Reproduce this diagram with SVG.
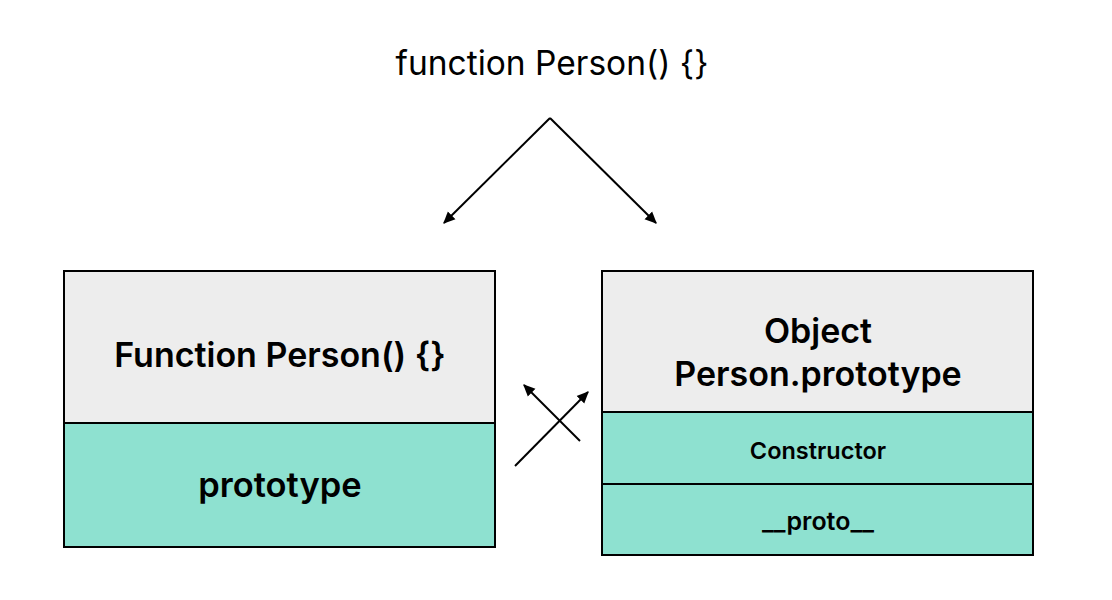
<svg xmlns="http://www.w3.org/2000/svg" width="1112" height="600" viewBox="0 0 1112 600">
<style>
text{font-family:Inter,"Noto Sans","Liberation Sans",sans-serif;fill:#000;text-anchor:middle}
.b{font-weight:600}
.hd{fill:#EDEDED;stroke:#000;stroke-width:2}
.tl{fill:#8EE1D0;stroke:#000;stroke-width:2}
.c{stroke:#000;stroke-width:2;fill:none;marker-end:url(#ah)}
</style>
<defs>
<marker id="ah" viewBox="0 0 10 10" refX="9" refY="5" markerWidth="6" markerHeight="6" orient="auto" markerUnits="strokeWidth">
<path d="M0,0.5 L10,5 L0,9.5 z" fill="#000"/>
</marker>
</defs>
<rect width="1112" height="600" fill="#fff"/>
<g id="title"><text x="552" y="75" font-size="33.5">function Person() {}</text></g>
<g id="function-person">
<rect class="hd" x="64" y="271" width="431" height="152"/>
<rect class="tl" x="64" y="423" width="431" height="124"/>
<text class="b" x="280" y="367" font-size="34">Function Person() {}</text>
<text class="b" x="280" y="497" font-size="34.5">prototype</text>
</g>
<g id="person-prototype">
<rect class="hd" x="602" y="271" width="431" height="141"/>
<rect class="tl" x="602" y="412" width="431" height="72"/>
<rect class="tl" x="602" y="484" width="431" height="71"/>
<text class="b" x="818" y="343" font-size="34">Object</text>
<text class="b" x="818" y="386" font-size="34">Person.prototype</text>
<text class="b" x="818" y="459" font-size="23.5">Constructor</text>
<text class="b" x="818" y="530" font-size="25">__proto__</text>
</g>
<g id="connectors">
<path class="c" d="M550,118 L444,223"/>
<path class="c" d="M550,118 L656,223"/>
<path class="c" d="M515,466 L588,392"/>
<path class="c" d="M580,441 L524,385"/>
</g>
</svg>
